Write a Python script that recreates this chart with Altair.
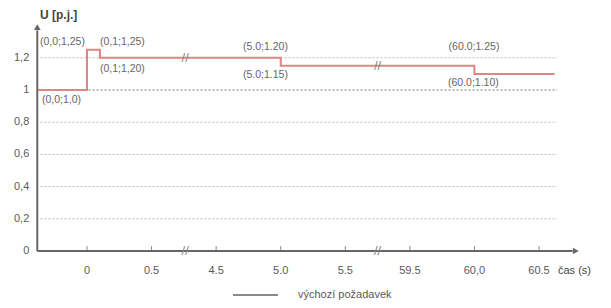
import altair as alt
import pandas as pd

# ---- data ----
step_t = [-0.385, 0.0, 0.0, 0.1, 0.1, 5.0, 5.0, 60.0, 60.0, 60.62]
step_u = [1.0, 1.0, 1.25, 1.25, 1.20, 1.20, 1.15, 1.15, 1.10, 1.10]

grid_vals = [0.2, 0.4, 0.6, 0.8, 1.0, 1.2]
y_ticks = [0, 0.2, 0.4, 0.6, 0.8, 1.0, 1.2]
y_labels = ["0", "0,2", "0,4", "0,6", "0,8", "1", "1,2"]

x_ticks = [0.0, 0.5, 4.5, 5.0, 5.5, 59.5, 60.0, 60.5]
x_labels = ["0", "0.5", "4.5", "5.0", "5.5", "59.5", "60,0", "60.5"]

ann_text = ["(0,0;1,25)", "(0,1;1,25)", "(0,1;1,20)", "(0,0;1,0)",
            "(5.0;1.20)", "(5.0;1.15)", "(60.0;1.25)", "(60.0;1.10)"]
ann_t = [-0.364, 0.1, 0.1, -0.349, 4.708, 4.708, 59.80, 59.795]
ann_u = [1.298, 1.298, 1.130, 0.938, 1.267, 1.093, 1.267, 1.043]

break_pos = [1.52, 4.5]          # display positions of axis breaks
break_u = [[1.2, 0.0], [1.15, 0.0]]

t_axis = -0.385
t_grid_end = 60.64
t_axis_end = 60.76
y_axis_top = 1.37


def pos(t):
    """broken-axis mapping: seconds -> display position"""
    if t <= 1.0:
        return t / 0.5
    if t <= 30:
        return 2 + (t - 4.5) / 0.5
    return 5 + (t - 59.5) / 0.5


W, H = 595, 292
ppu = 452 / 7.0
xd0 = -79 / ppu
xd1 = xd0 + W / ppu
yd1 = 243 / 161
yd0 = -(H - 243) / 161

xs = alt.Scale(domain=[xd0, xd1], nice=False, zero=False)
ys = alt.Scale(domain=[yd0, yd1], nice=False, zero=False)
X = lambda f: alt.X(f, type="quantitative", scale=xs, axis=None)
Y = lambda f: alt.Y(f, type="quantitative", scale=ys, axis=None)

FONT = "Liberation Sans"
GRAY = "#5a5a5a"

step_df = pd.DataFrame({"x": [pos(t) for t in step_t], "u": step_u,
                        "o": list(range(len(step_t)))})
grid_df = pd.DataFrame({"x": [pos(-0.36)] * len(grid_vals),
                        "x2": [pos(t_grid_end)] * len(grid_vals),
                        "u": grid_vals,
                        "main": [v == 1.0 for v in grid_vals]})
ytick_df = pd.DataFrame({"x": [pos(t_axis)] * len(y_ticks), "u": y_ticks, "lab": y_labels})
xtick_df = pd.DataFrame({"x": [pos(t) for t in x_ticks], "u": [0.0] * len(x_ticks),
                         "u2": [0.03] * len(x_ticks), "lab": x_labels})
ann_df = pd.DataFrame({"x": [pos(t) for t in ann_t], "u": ann_u, "lab": ann_text})
brk_rows = []
for p, us in zip(break_pos, break_u):
    for u in us:
        brk_rows.append({"x": p, "u": u})
brk_df = pd.DataFrame(brk_rows)
yaxis_df = pd.DataFrame({"x": [pos(t_axis)], "u": [0.0], "u2": [y_axis_top]})
xaxis_df = pd.DataFrame({"x": [pos(t_axis)], "x2": [pos(t_axis_end)], "u": [0.0]})
yarrow_df = pd.DataFrame({"x": [pos(t_axis)], "u": [y_axis_top + 0.02]})
xarrow_df = pd.DataFrame({"x": [pos(t_axis_end) + 0.05], "u": [0.0]})

grid = alt.Chart(grid_df).mark_rule(strokeDash=[2, 2], strokeWidth=1).encode(
    x=X("x"), x2="x2", y=Y("u"),
    color=alt.condition("datum.main", alt.value("#777777"), alt.value("#b8b8b8")))

red = alt.Chart(step_df).mark_line(color="#e08484", strokeWidth=2).encode(
    x=X("x"), y=Y("u"), order="o:Q")

yaxis = alt.Chart(yaxis_df).mark_rule(color="#666666", strokeWidth=2).encode(
    x=X("x"), y=Y("u"), y2="u2")
xaxis = alt.Chart(xaxis_df).mark_rule(color="#666666", strokeWidth=2).encode(
    x=X("x"), x2="x2", y=Y("u"))
yarrow = alt.Chart(yarrow_df).mark_point(shape="triangle-up", filled=True, size=45,
                                         color="#666666", opacity=1).encode(x=X("x"), y=Y("u"))
xarrow = alt.Chart(xarrow_df).mark_point(shape="triangle-right", filled=True, size=45,
                                         color="#666666", opacity=1).encode(x=X("x"), y=Y("u"))
xticks = alt.Chart(xtick_df).mark_rule(color="#888888", strokeWidth=1).encode(
    x=X("x"), y=Y("u"), y2="u2")

ylab = alt.Chart(ytick_df).mark_text(align="right", baseline="middle", dx=-8,
                                     font=FONT, fontSize=11, color=GRAY).encode(
    x=X("x"), y=Y("u"), text="lab")
xlab = alt.Chart(xtick_df).mark_text(align="center", baseline="middle", dy=20,
                                     font=FONT, fontSize=11, color=GRAY).encode(
    x=X("x"), y=Y("u"), text="lab")
ann = alt.Chart(ann_df).mark_text(align="left", baseline="middle",
                                  font=FONT, fontSize=10.5, color="#666666").encode(
    x=X("x"), y=Y("u"), text="lab")
brk = alt.Chart(brk_df).mark_text(text="//", align="center", baseline="middle",
                                  font=FONT, fontSize=13, color="#888888").encode(
    x=X("x"), y=Y("u"))

ytitle = alt.Chart(pd.DataFrame({"lab": ["U [p.j.]"]})).mark_text(
    align="left", baseline="middle", font=FONT, fontSize=12, fontWeight="bold",
    color="#444444").encode(x=alt.value(32), y=alt.value(7), text="lab")
xtitle = alt.Chart(pd.DataFrame({"lab": ["čas (s)"]})).mark_text(
    align="left", baseline="middle", font=FONT, fontSize=11, color="#444444").encode(
    x=alt.value(550), y=alt.value(263), text="lab")

leg_line = alt.Chart(pd.DataFrame({"a": [0]})).mark_rule(color="#8a8a8a", strokeWidth=2).encode(
    x=alt.value(225), x2=alt.value(270), y=alt.value(287))
leg_text = alt.Chart(pd.DataFrame({"lab": ["výchozí požadavek"]})).mark_text(
    align="left", baseline="middle", font=FONT, fontSize=11, color=GRAY).encode(
    x=alt.value(290), y=alt.value(287), text="lab")

chart = alt.layer(grid, red, xticks, yaxis, xaxis, yarrow, xarrow, ylab, xlab, ann, brk,
                  ytitle, xtitle, leg_line, leg_text).properties(
    width=W, height=H, autosize=alt.AutoSizeParams(type="none"), padding=0,
    background="white").configure_view(stroke=None)

chart.save("out.html", embed_options={"renderer": "svg", "actions": False})
